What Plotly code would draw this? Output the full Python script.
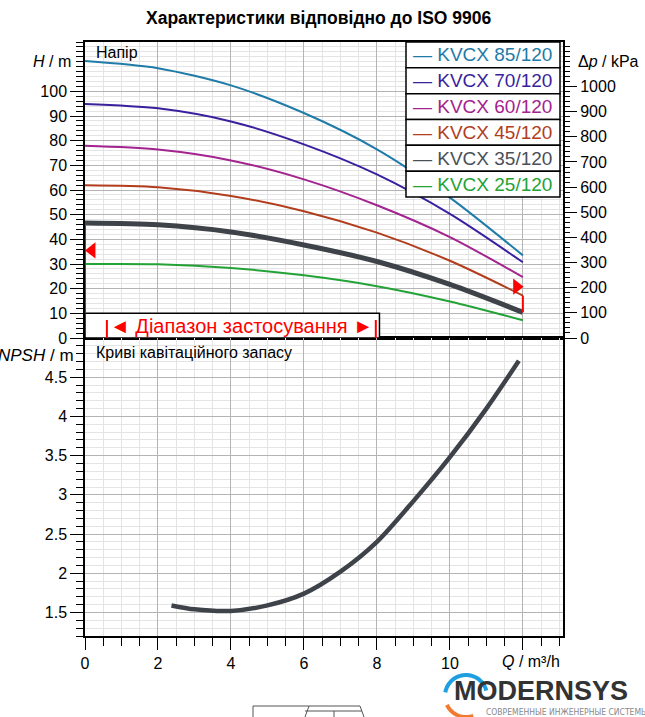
import math
import plotly.graph_objects as go

# pump head curves, Q in m3/h, H in m
q_head = [0, 2, 4, 6, 8, 10, 12]
h_85 = [112.3, 109.4, 102.4, 91.2, 76.5, 56.9, 33.5]
h_70 = [94.9, 93.1, 87.8, 78.5, 66.3, 50.3, 30.7]
h_60 = [77.9, 76.4, 72.0, 64.3, 53.8, 40.9, 24.7]
h_45 = [61.9, 61.1, 57.6, 51.4, 42.7, 31.3, 17.2]
h_35 = [46.6, 45.9, 43.0, 37.7, 31.0, 21.7, 10.4]
h_25 = [30.0, 29.9, 28.4, 25.4, 21.0, 14.8, 7.2]

models = ["KVCX 85/120", "KVCX 70/120", "KVCX 60/120",
          "KVCX 45/120", "KVCX 35/120", "KVCX 25/120"]
colors = ["#1f7ba8", "#3a1f9e", "#a3238f", "#b23d1c", "#4a4f58", "#23a236"]
widths = [2, 2, 2, 2, 5, 2]

# NPSH curve
q_npsh = [2.37, 3, 4, 5, 6, 7, 8, 9, 10, 11, 11.89]
npsh = [1.59, 1.54, 1.52, 1.59, 1.74, 2.02, 2.40, 2.92, 3.48, 4.10, 4.71]

# application range markers (red)
range_mark_q = [0.19, 11.83]
range_mark_h = [35.5, 20.8]

h_ticks = [0, 10, 20, 30, 40, 50, 60, 70, 80, 90, 100]
kpa_ticks = [0, 100, 200, 300, 400, 500, 600, 700, 800, 900, 1000]
npsh_ticks = [1.5, 2, 2.5, 3, 3.5, 4, 4.5]
q_ticks = [0, 2, 4, 6, 8, 10, 12]
q_labels = ["0", "2", "4", "6", "8", "10", ""]

FONT = "Liberation Sans, Arial, sans-serif"
W, H = 645, 717
L, R, T, B = 85, 563, 42, 636
MID = 338
split = (B - MID) / (B - T)


def px(x):
    return (x - L) / (R - L)


def py(y):
    return (B - y) / (B - T)


def label(x, y, text, size=16, color="black", anchor="left", family=FONT):
    return dict(xref="paper", yref="paper", x=px(x), y=py(y), xanchor=anchor,
                yanchor="middle", showarrow=False, text=text,
                font=dict(family=family, size=size, color=color))


fig = go.Figure()

heads = [h_85, h_70, h_60, h_45, h_35, h_25]
for name, h, c, w in zip(models, heads, colors, widths):
    lc = "#3e4249" if w > 3 else c
    fig.add_trace(go.Scatter(x=q_head, y=h, mode="lines", name=name,
                             line=dict(color=lc, width=w, shape="spline", smoothing=0.8),
                             xaxis="x", yaxis="y"))

fig.add_trace(go.Scatter(x=range_mark_q, y=range_mark_h, mode="markers",
                         marker=dict(symbol=["triangle-left", "triangle-right"],
                                     size=14, color="#ff0000", line=dict(width=0)),
                         xaxis="x", yaxis="y"))

# empty trace so the kPa axis is drawn
fig.add_trace(go.Scatter(x=[0], y=[0], mode="markers", marker=dict(size=1, opacity=0),
                         xaxis="x", yaxis="y3", hoverinfo="skip"))

fig.add_trace(go.Scatter(x=q_npsh, y=npsh, mode="lines",
                         line=dict(color="#3e4249", width=4.5, shape="spline", smoothing=0.8),
                         xaxis="x2", yaxis="y2"))

grid_major = "#b4b4b4"
grid_minor = "#e4e4e4"
tickfont = dict(family=FONT, size=16, color="black")

fig.update_layout(
    width=W, height=H,
    margin=dict(l=L, r=W - R, t=T, b=H - B),
    paper_bgcolor="white", plot_bgcolor="white",
    showlegend=False,
    font=dict(family=FONT, color="black"),
    xaxis=dict(domain=[0, 1], anchor="y", range=[0, 13.1], showticklabels=False,
               ticks="", tick0=0, dtick=2, showgrid=True, gridcolor=grid_major, gridwidth=1,
               minor=dict(dtick=0.5, tick0=0, showgrid=True, gridcolor=grid_minor),
               showline=True, linecolor="black", linewidth=1.5, mirror=True, zeroline=False),
    yaxis=dict(domain=[split, 1], anchor="x", range=[0, 120], tickmode="array",
               tickvals=h_ticks, ticks="outside", ticklen=13, tickwidth=1.2, tickcolor="black",
               tickfont=tickfont, showgrid=True, gridcolor=grid_major,
               minor=dict(dtick=2, tick0=0, ticks="outside", ticklen=7, tickcolor="black",
                          showgrid=True, gridcolor=grid_minor),
               showline=True, linecolor="black", linewidth=1.5, mirror=True, zeroline=False),
    yaxis3=dict(overlaying="y", side="right", anchor="x", range=[0, 120 * 9.81],
                tickmode="array", tickvals=kpa_ticks, ticks="outside", ticklen=13,
                tickwidth=1.2, tickcolor="black", tickfont=tickfont, showgrid=False,
                minor=dict(dtick=20, tick0=0, ticks="outside", ticklen=6, tickcolor="black"),
                showline=False, zeroline=False),
    xaxis2=dict(domain=[0, 1], anchor="y2", range=[0, 13.1], tickmode="array",
                tickvals=q_ticks, ticktext=q_labels, ticks="outside", ticklen=12,
                tickwidth=1.2, tickcolor="black", tickfont=tickfont,
                showgrid=True, gridcolor=grid_major,
                minor=dict(dtick=0.5, tick0=0, ticks="outside", ticklen=8, tickcolor="black",
                           showgrid=True, gridcolor=grid_minor),
                showline=True, linecolor="black", linewidth=1.5, mirror=True, zeroline=False),
    yaxis2=dict(domain=[0, split], anchor="x2", range=[1.2, 5.0], tickmode="array",
                tickvals=npsh_ticks, ticks="outside", ticklen=13, tickwidth=1.2,
                tickcolor="black", tickfont=tickfont, showgrid=True, gridcolor=grid_major,
                minor=dict(dtick=0.1, tick0=0, ticks="outside", ticklen=7, tickcolor="black",
                           showgrid=True, gridcolor=grid_minor),
                showline=True, linecolor="black", linewidth=1.5, mirror=True, zeroline=False),
)

shapes = []
annos = []

# legend table
row_h = (197 - 42) / len(models)
for i, (name, c) in enumerate(zip(models, colors)):
    top = 42 + i * row_h
    shapes.append(dict(type="rect", xref="paper", yref="paper", x0=px(406), x1=px(560),
                       y0=py(top + row_h), y1=py(top), fillcolor="white",
                       line=dict(color="black", width=1.5), layer="above"))
    annos.append(label(411, top + row_h / 2, "— " + name, size=19, color=c))

# application range box
shapes.append(dict(type="rect", xref="x", yref="y", x0=0, x1=8.07, y0=0, y1=10,
                   fillcolor="white", line=dict(color="black", width=1.5), layer="above"))
for xb in [0.6, 7.97]:
    shapes.append(dict(type="line", xref="x", yref="y", x0=xb, x1=xb, y0=0, y1=7.3,
                       line=dict(color="#ff0000", width=2), layer="above"))
annos.append(dict(xref="x", yref="y", x=4.28, y=5.0, yanchor="middle", showarrow=False,
                  text="◄ Діапазон застосування ►",
                  font=dict(family=FONT, size=20, color="#ff0000")))
shapes.append(dict(type="line", xref="x", yref="y", x0=0, x1=0, y0=10, y1=h_35[0],
                   line=dict(color="#ff0000", width=2), layer="above"))
shapes.append(dict(type="line", xref="x", yref="y", x0=q_head[-1], x1=q_head[-1],
                   y0=h_35[-1], y1=h_45[-1], line=dict(color="#ff0000", width=2), layer="above"))

# titles and axis labels
annos += [
    label(318, 18, "<b>Характеристики відповідно до ISO 9906</b>", size=17.5, anchor="center"),
    label(73, 61, "<i>H</i> / m", anchor="right"),
    label(576, 62, "Δ<i>p</i> / kPa"),
    label(76, 355, "<i>NPSH</i> / m", size=17, anchor="right"),
    label(562, 661, "<i>Q</i> / m³/h", anchor="right"),
    label(94, 52, "Напір"),
    label(94, 352, "Криві кавітаційного запасу"),
]

# logo
annos += [
    label(452, 691, "<b>MODERNSYS</b>", size=27, color="#333333"),
    label(484, 712, "СОВРЕМЕННЫЕ ИНЖЕНЕРНЫЕ СИСТЕМЫ", size=8.5, color="#888888",
          family="Liberation Sans Narrow, DejaVu Sans Condensed, sans-serif"),
]


def arc(cx, cy, r, a0, a1, n=30):
    pts = []
    for k in range(n + 1):
        a = math.radians(a0 + (a1 - a0) * k / n)
        pts.append((px(cx + r * math.cos(a)), py(cy - r * math.sin(a))))
    return "M " + " L ".join(f"{x:.5f},{y:.5f}" for x, y in pts)


shapes.append(dict(type="path", xref="paper", yref="paper", path=arc(466, 696, 21, 170, 15),
                   line=dict(color="#1e9fe0", width=4), layer="above"))
shapes.append(dict(type="path", xref="paper", yref="paper", path=arc(466, 696, 21, 205, 290),
                   line=dict(color="#f07a30", width=4), layer="above"))

# fragment of a drawing below the chart
for (x0, y0, x1, y1) in [(253, 706, 360, 706), (253, 706, 253, 717), (309, 706, 305, 717),
                         (305, 711, 362, 711), (334, 711, 334, 717), (360, 706, 364, 717)]:
    shapes.append(dict(type="line", xref="paper", yref="paper", x0=px(x0), x1=px(x1),
                       y0=py(y0), y1=py(y1), line=dict(color="#555555", width=1)))

fig.update_layout(shapes=shapes, annotations=annos)

fig.write_html("out.html", config={"displayModeBar": False},
               post_script="document.body.style.margin='0';document.body.style.overflow='hidden';")
